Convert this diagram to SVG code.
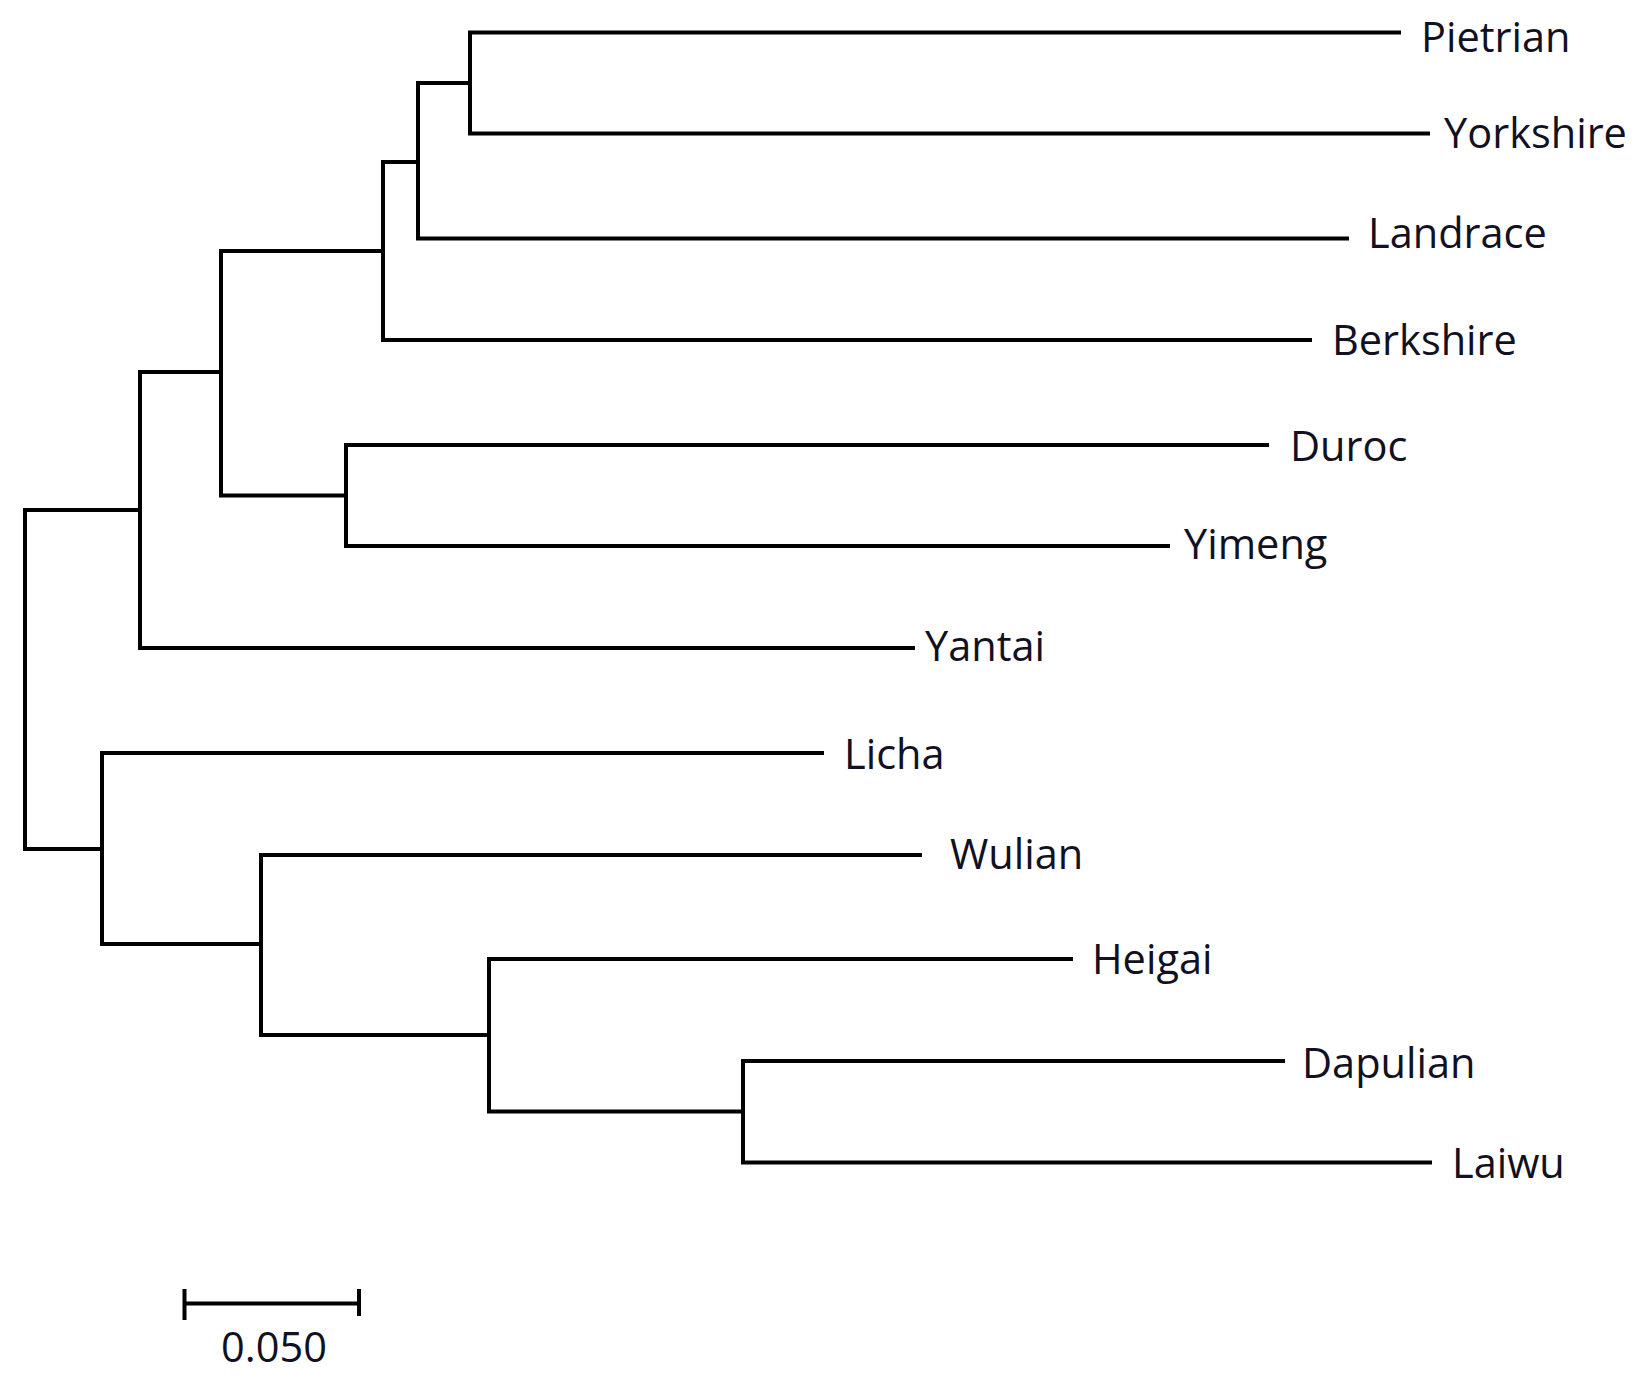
<svg xmlns="http://www.w3.org/2000/svg" width="1636" height="1386" viewBox="0 0 1636 1386">
<style>
.br{fill:none;stroke:#000;stroke-width:4;stroke-linejoin:miter;stroke-linecap:butt}
.lb{font-family:"Open Sans","Noto Sans","Liberation Sans",sans-serif;font-size:41.5px;fill:#111122}
</style>
<rect width="1636" height="1386" fill="#fff"/>
<g id="connectors">
<path class="br" d="M1401,32.5 H470 V133.5 H1430"/>
<path class="br" d="M470,83 H418 V238.5 H1349"/>
<path class="br" d="M418,162 H383 V340 H1312"/>
<path class="br" d="M1269,445 H346 V546 H1170"/>
<path class="br" d="M383,251 H221 V495.5 H346"/>
<path class="br" d="M221,372 H140 V648 H915"/>
<path class="br" d="M1285,1061 H743 V1162.5 H1432"/>
<path class="br" d="M1073,959 H489 V1111.5 H743"/>
<path class="br" d="M922,855 H261 V1035 H489"/>
<path class="br" d="M824,753 H102 V944 H261"/>
<path class="br" d="M140,510 H25 V849 H102"/>
</g>
<g id="node-pietrian"><text class="lb" x="1421" y="52">Pietrian</text></g>
<g id="node-yorkshire"><text class="lb" x="1444" y="148">Yorkshire</text></g>
<g id="node-landrace"><text class="lb" x="1368" y="248">Landrace</text></g>
<g id="node-berkshire"><text class="lb" x="1332" y="355">Berkshire</text></g>
<g id="node-duroc"><text class="lb" x="1290" y="461">Duroc</text></g>
<g id="node-yimeng"><text class="lb" x="1184" y="559">Yimeng</text></g>
<g id="node-yantai"><text class="lb" x="925" y="661">Yantai</text></g>
<g id="node-licha"><text class="lb" x="844" y="769">Licha</text></g>
<g id="node-wulian"><text class="lb" x="950" y="869">Wulian</text></g>
<g id="node-heigai"><text class="lb" x="1092" y="974">Heigai</text></g>
<g id="node-dapulian"><text class="lb" x="1302" y="1078">Dapulian</text></g>
<g id="node-laiwu"><text class="lb" x="1452" y="1178">Laiwu</text></g>
<g id="scale-bar">
<path class="br" d="M184.5,1303.5 H359 M184.5,1289 V1320 M359,1289 V1316"/>
<text class="lb" x="274" y="1362" text-anchor="middle">0.050</text>
</g>
</svg>
